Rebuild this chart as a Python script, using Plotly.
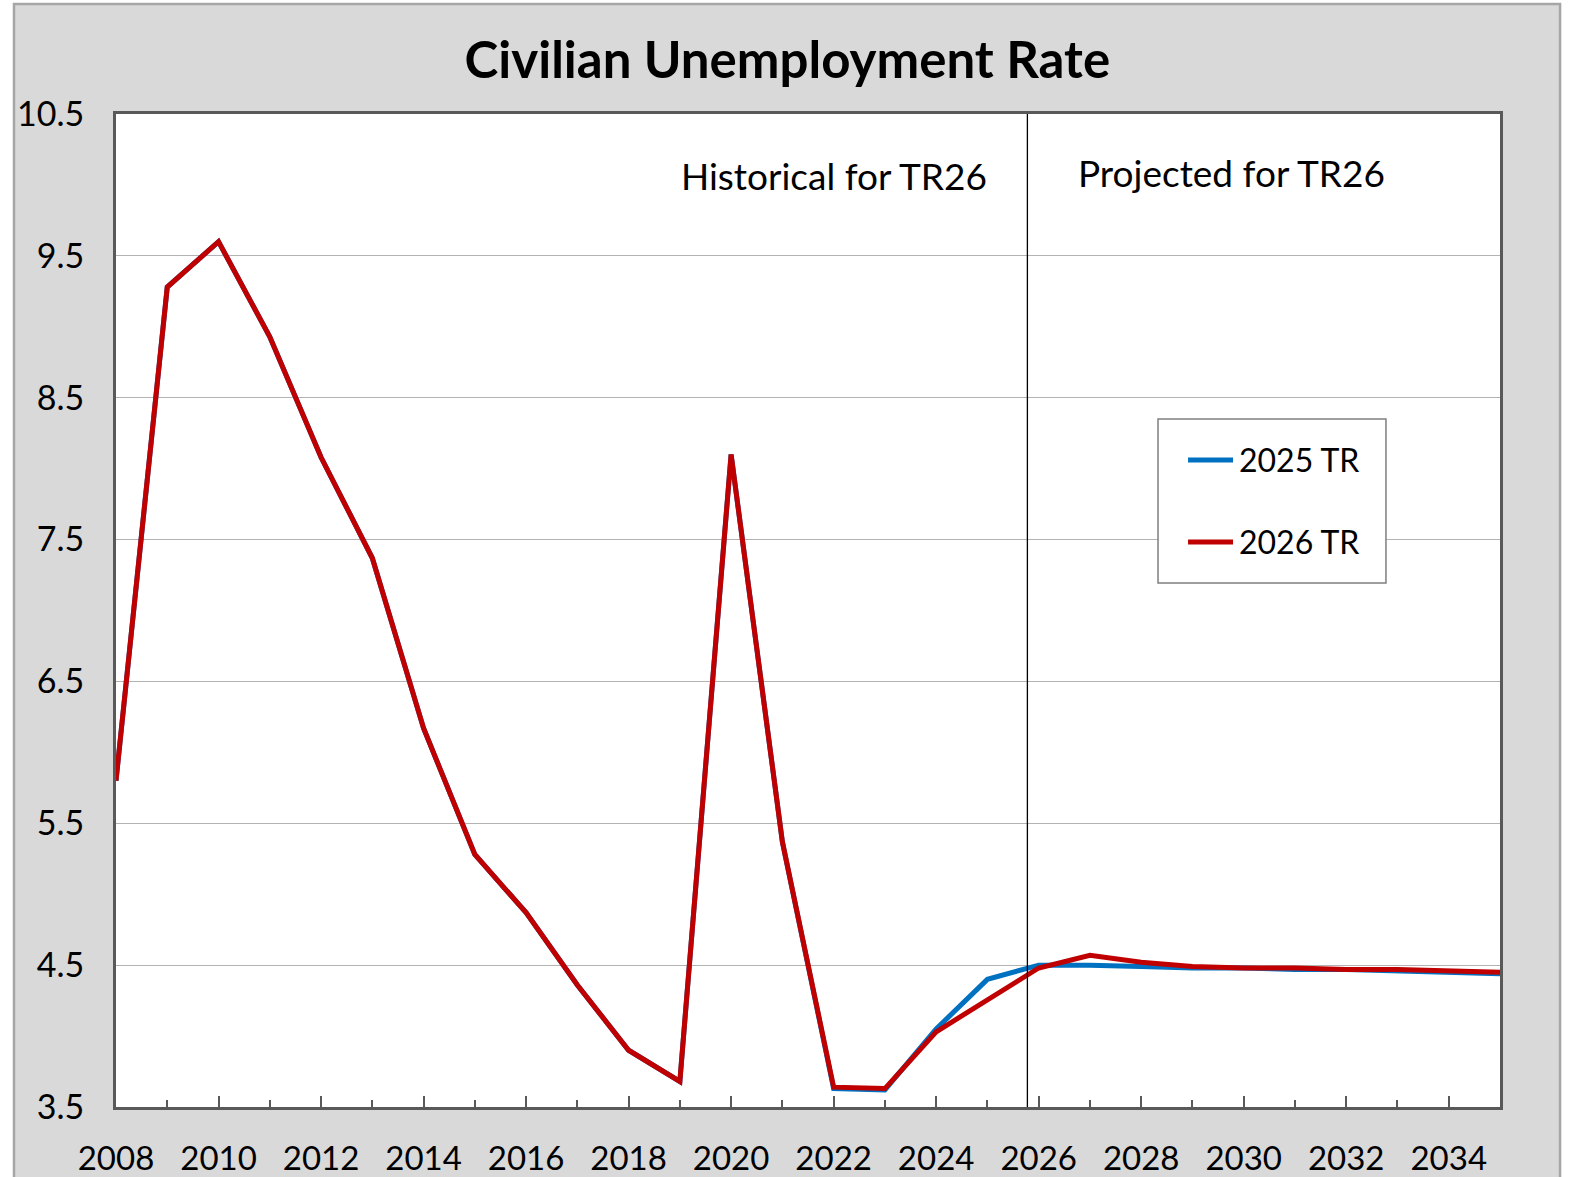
import plotly.graph_objects as go

# Civilian unemployment rate, annual averages (percent)
years = list(range(2008, 2036))

tr2026 = [5.8, 9.28, 9.6, 8.93, 8.08, 7.37, 6.17, 5.28, 4.87, 4.36, 3.9, 3.68,
          8.1, 5.37, 3.64, 3.63, 4.03, 4.26, 4.48, 4.57, 4.52, 4.49, 4.48, 4.48,
          4.47, 4.47, 4.46, 4.45]

tr2025 = [5.8, 9.28, 9.6, 8.93, 8.08, 7.37, 6.17, 5.28, 4.87, 4.36, 3.9, 3.68,
          8.1, 5.37, 3.63, 3.62, 4.05, 4.40, 4.50, 4.50, 4.49, 4.48, 4.48, 4.47,
          4.47, 4.46, 4.45, 4.44]

series_names = ["2025 TR", "2026 TR"]
series_colors = ["#0070c0", "#c00000"]

y_ticks = [3.5, 4.5, 5.5, 6.5, 7.5, 8.5, 9.5, 10.5]
x_ticks = list(range(2008, 2036, 2))

boundary_year = 2025.78
region_labels = ["Historical for TR26", "Projected for TR26"]

FONT = "Lato, 'Open Sans', sans-serif"

fig = go.Figure()
for name, vals, col in zip(series_names, [tr2025, tr2026], series_colors):
    fig.add_trace(go.Scatter(
        x=years, y=vals, mode="lines", name=name,
        line=dict(color=col, width=5),
        showlegend=False,
    ))

fig.update_layout(
    width=1570, height=1177,
    margin=dict(l=116, r=70, t=114, b=70, autoexpand=False),
    paper_bgcolor="white",
    plot_bgcolor="rgba(0,0,0,0)",
    font=dict(family=FONT, color="black", size=33),
    title=dict(
        text="<b>Civilian Unemployment Rate</b>",
        x=0.5015, xanchor="center", y=0.949, yanchor="middle",
        font=dict(family=FONT, size=51, color="black"),
    ),
    showlegend=False,
    xaxis=dict(
        range=[2008, 2035],
        automargin=False,
        tickvals=x_ticks,
        ticktext=[str(v) for v in x_ticks],
        ticks="inside", ticklen=11, tickwidth=2, tickcolor="#595959",
        minor=dict(dtick=1, tick0=2008, ticks="inside", ticklen=7,
                   tickwidth=1.5, tickcolor="#595959", showgrid=False),
        showgrid=False, zeroline=False,
        showline=True, linecolor="#595959", linewidth=3, mirror=True,
        tickfont=dict(family=FONT, size=33),
        ticklabelstandoff=20,
    ),
    yaxis=dict(
        range=[3.5, 10.5],
        automargin=False,
        tickvals=y_ticks,
        ticktext=[f"{v:.1f}" for v in y_ticks],
        ticks="",
        showgrid=True, gridcolor="#b3b3b3", gridwidth=1.2,
        zeroline=False,
        showline=True, linecolor="#595959", linewidth=3, mirror=True,
        tickfont=dict(family=FONT, size=34),
        ticklabelstandoff=22,
    ),
)

# Grey chart panel with a light border, and white plotting area on top of it
fig.add_shape(type="rect", xref="paper", yref="paper",
              x0=-0.0737, x1=1.0434, y0=-0.2, y1=1.1108,
              fillcolor="#d9d9d9", line=dict(color="#a6a6a6", width=2.5),
              layer="below")
fig.add_shape(type="rect", xref="paper", yref="paper",
              x0=0, x1=1, y0=0, y1=1,
              fillcolor="white", line=dict(width=0), layer="below")

# Divider between historical and projected years
fig.add_shape(type="line", xref="x", yref="paper",
              x0=boundary_year, x1=boundary_year, y0=0, y1=1,
              line=dict(color="black", width=1.3))

fig.add_annotation(x=boundary_year - 0.75, y=0.938, xref="x", yref="paper",
                   text=region_labels[0], showarrow=False,
                   xanchor="right", yanchor="middle",
                   font=dict(family=FONT, size=37))
fig.add_annotation(x=boundary_year + 0.95, y=0.941, xref="x", yref="paper",
                   text=region_labels[1], showarrow=False,
                   xanchor="left", yanchor="middle",
                   font=dict(family=FONT, size=37))

# Boxed key for the two report vintages
fig.add_shape(type="rect", xref="paper", yref="paper",
              x0=0.7529, x1=0.9176, y0=0.5277, y1=0.6928,
              fillcolor="white", line=dict(color="#7f7f7f", width=1.5))
key_y = [0.6516, 0.569]
for name, col, ky in zip(series_names, series_colors, key_y):
    fig.add_shape(type="line", xref="paper", yref="paper",
                  x0=0.7746, x1=0.8071, y0=ky, y1=ky,
                  line=dict(color=col, width=5))
    fig.add_annotation(x=0.8100, y=ky, xref="paper", yref="paper",
                       text=name, showarrow=False,
                       xanchor="left", yanchor="middle",
                       font=dict(family=FONT, size=32))

fig.write_html("out.html")
